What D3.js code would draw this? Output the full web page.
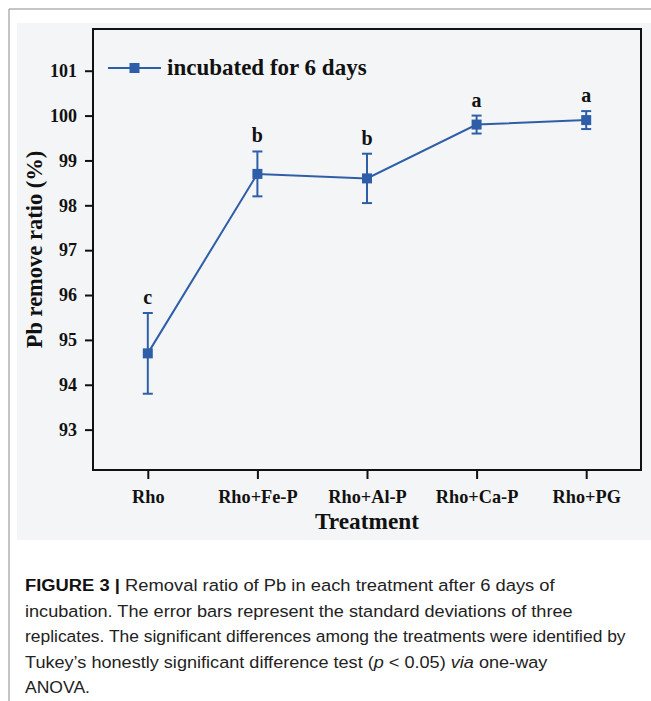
<!DOCTYPE html>
<html><head><meta charset="utf-8">
<script src="https://cdn.jsdelivr.net/npm/d3@7"></script>
<style>html,body{margin:0;padding:0;background:#fff;}svg{display:block;}</style>
</head><body>
<svg id="c" width="651" height="701"></svg>
<script>
const categories = ["Rho", "Rho+Fe-P", "Rho+Al-P", "Rho+Ca-P", "Rho+PG"];
const means = [94.7, 98.7, 98.6, 99.8, 99.9];
const sds = [0.9, 0.5, 0.55, 0.2, 0.2];
const letters = ["c", "b", "b", "a", "a"];
const yTicks = [93, 94, 95, 96, 97, 98, 99, 100, 101];
const seriesName = "incubated for 6 days";
const yLabel = "Pb remove ratio (%)";
const xLabel = "Treatment";
const captionLines = [
  [{t:"FIGURE 3 | ", b:true}, {t:"Removal ratio of Pb in each treatment after 6 days of"}],
  [{t:"incubation. The error bars represent the standard deviations of three"}],
  [{t:"replicates. The significant differences among the treatments were identified by"}],
  [{t:"Tukey\u2019s honestly significant difference test ("}, {t:"p", i:true}, {t:" < 0.05) "}, {t:"via", i:true}, {t:" one-way"}],
  [{t:"ANOVA."}]
];
const captionWidths = [530, 548, 601, 523, 65];

const svg = d3.select("#c");
const blue = "#2f5ea8";
const serif = "'Liberation Serif','Times New Roman',serif";

// outer frame lines
svg.append("line").attr("x1",9).attr("x2",651).attr("y1",9).attr("y2",9).attr("stroke","#8a8a8a").attr("stroke-width",1);
svg.append("line").attr("x1",9).attr("x2",9).attr("y1",9).attr("y2",701).attr("stroke","#8a8a8a").attr("stroke-width",1);
// figure background
svg.append("rect").attr("x",17).attr("y",23).attr("width",634).attr("height",517).attr("fill","#f4f5f6");

const m = {l:93, r:641, t:29, b:470};
const x = d3.scalePoint().domain(categories).range([m.l, m.r]).padding(0.5);
const y = d3.scaleLinear().domain([92.1, 101.93]).range([m.b, m.t]);

// axes
const yAxis = d3.axisLeft(y).tickValues(yTicks).tickFormat(d3.format("d")).tickSize(8).tickPadding(8);
const gy = svg.append("g").attr("transform",`translate(${m.l},0)`).call(yAxis);
gy.select(".domain").remove();
gy.selectAll("line").attr("stroke","#111").attr("stroke-width",2);
gy.selectAll("text").attr("font-family",serif).attr("font-weight","bold").attr("font-size",18).attr("fill","#111");

const xAxis = d3.axisBottom(x).tickSize(9).tickPadding(11);
const gx = svg.append("g").attr("transform",`translate(0,${m.b})`).call(xAxis);
gx.select(".domain").remove();
gx.selectAll("line").attr("stroke","#111").attr("stroke-width",2);
gx.selectAll("text").attr("font-family",serif).attr("font-weight","bold").attr("font-size",18.3).attr("fill","#111");

// frame
svg.append("rect").attr("x",m.l).attr("y",m.t).attr("width",m.r-m.l).attr("height",m.b-m.t)
  .attr("fill","none").attr("stroke","#111").attr("stroke-width",2);

// axis titles
svg.append("text").attr("x",(m.l+m.r)/2).attr("y",529).attr("text-anchor","middle")
  .attr("font-family",serif).attr("font-weight","bold").attr("font-size",23.3).attr("fill","#111").text(xLabel);
svg.append("text").attr("transform",`translate(42,${(m.t+m.b)/2}) rotate(-90)`).attr("text-anchor","middle")
  .attr("font-family",serif).attr("font-weight","bold").attr("font-size",22.5).attr("fill","#111").text(yLabel);

const data = categories.map((c,i)=>({c, v:means[i], sd:sds[i], l:letters[i]}));

// line
svg.append("path").datum(data).attr("fill","none").attr("stroke",blue).attr("stroke-width",2)
  .attr("d", d3.line().x(d=>x(d.c)).y(d=>y(d.v)));

// error bars
const eb = svg.append("g").attr("stroke",blue).attr("stroke-width",2);
data.forEach(d=>{
  const cx = x(d.c);
  eb.append("line").attr("x1",cx).attr("x2",cx).attr("y1",y(d.v-d.sd)).attr("y2",y(d.v+d.sd));
  eb.append("line").attr("x1",cx-5).attr("x2",cx+5).attr("y1",y(d.v-d.sd)).attr("y2",y(d.v-d.sd));
  eb.append("line").attr("x1",cx-5).attr("x2",cx+5).attr("y1",y(d.v+d.sd)).attr("y2",y(d.v+d.sd));
});
// markers
svg.append("g").selectAll("rect").data(data).join("rect")
  .attr("x",d=>x(d.c)-5).attr("y",d=>y(d.v)-5).attr("width",10).attr("height",10).attr("fill",blue);
// letters
svg.append("g").selectAll("text").data(data).join("text")
  .attr("x",d=>x(d.c)).attr("y",d=>y(d.v+d.sd)-9).attr("text-anchor","middle")
  .attr("font-family",serif).attr("font-weight","bold").attr("font-size",20).attr("fill","#111").text(d=>d.l);

// legend
const lg = svg.append("g");
lg.append("line").attr("x1",108).attr("x2",161).attr("y1",68).attr("y2",68).attr("stroke",blue).attr("stroke-width",2);
lg.append("rect").attr("x",129.5).attr("y",63).attr("width",10).attr("height",10).attr("fill",blue);
lg.append("text").attr("x",167).attr("y",75).attr("font-family",serif).attr("font-weight","bold")
  .attr("font-size",23).attr("fill","#111").text(seriesName);

// caption
const cap = svg.append("g");
captionLines.forEach((line,i)=>{
  const t = cap.append("text").attr("x",0).attr("y",0)
    .attr("font-family","'Liberation Sans',Arial,sans-serif").attr("font-size",17).attr("fill","#222");
  line.forEach(seg=>{
    const ts = t.append("tspan").text(seg.t);
    if (seg.b) ts.attr("font-weight","bold").attr("fill","#111");
    if (seg.i) ts.attr("font-style","italic");
  });
  const w = t.node().getComputedTextLength();
  const sx = captionWidths[i]/w;
  t.attr("transform",`translate(25,${591 + i*25.5}) scale(${sx},1)`);
});
</script>
</body></html>
